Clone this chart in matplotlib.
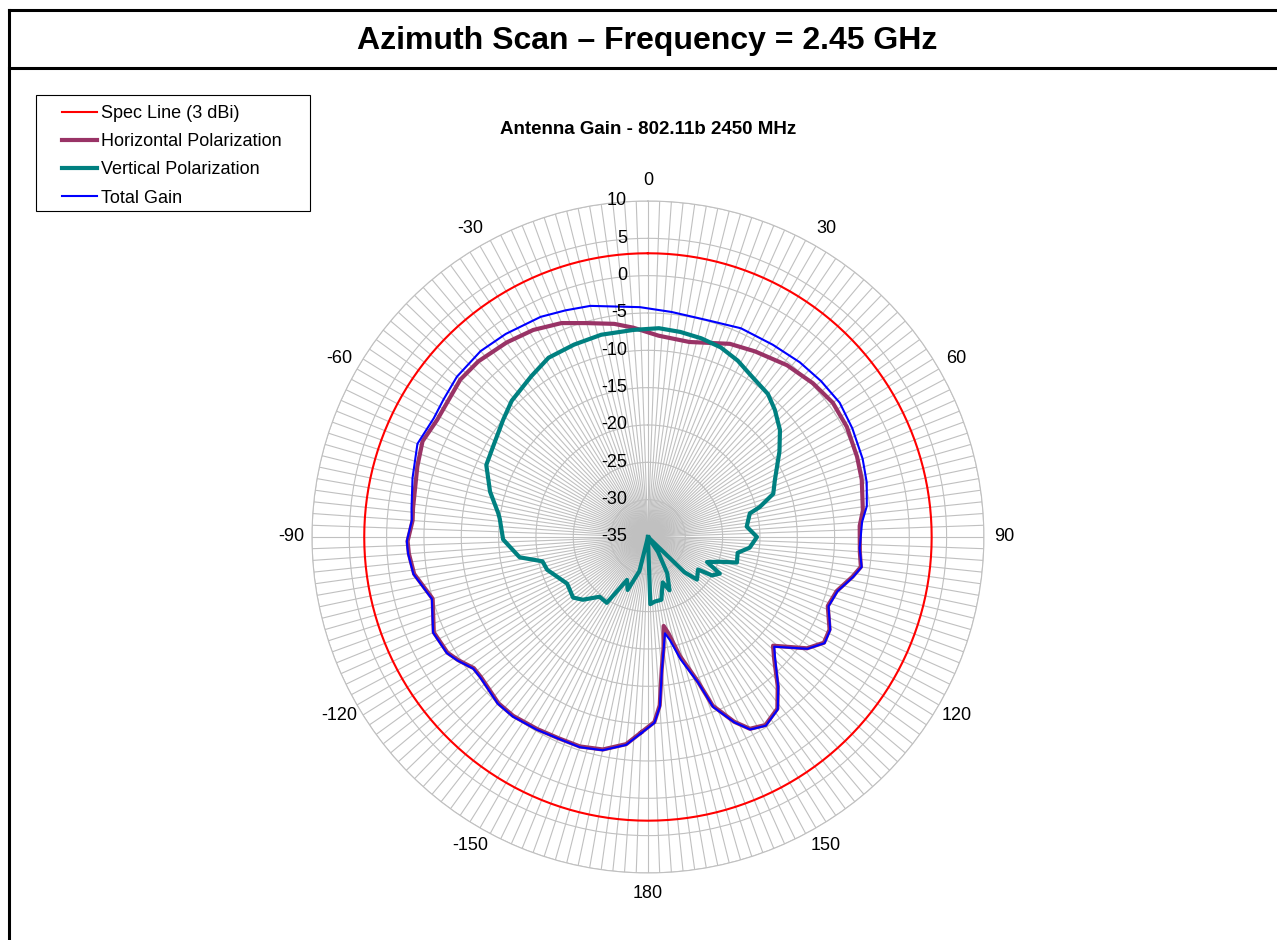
import numpy as np
import matplotlib.pyplot as plt
from matplotlib.lines import Line2D
from matplotlib.patches import Rectangle

plt.rcParams['font.family'] = ['Liberation Sans', 'DejaVu Sans']

# azimuth angle (deg) and gain (dBi) per series
total_deg = [-178, -174, -168, -162, -156, -150, -143, -138, -130, -127, -123, -120,
             -114, -106, -99, -94, -91, -86, -83, -76, -68, -61, -56, -50, -42, -35,
             -26, -20, -14, -2, 6, 15, 24, 33, 41, 48, 55, 62, 70, 76, 82, 86, 93,
             98, 101, 106, 111, 117, 121, 125, 131, 134, 139, 143, 148, 152, 155,
             159, 161, 165, 168, 170, 174, 176, 178]
total_db = [-8.7, -7.0, -5.8, -5.4, -5.45, -5.2, -4.9, -4.95, -5.7, -5.7, -4.6, -3.9,
            -3.5, -4.9, -3.2, -2.8, -2.7, -3.3, -3.1, -2.5, -1.7, -2.2, -2.0, -1.6,
            -1.5, -1.8, -2.2, -2.7, -3.1, -4.2, -4.7, -4.9, -4.4, -4.3, -4.0, -3.8,
            -3.65, -4.0, -4.4, -4.8, -5.4, -6.25, -6.6, -6.1, -7.0, -8.6, -9.1, -7.6,
            -7.4, -8.9, -12.6, -11.3, -8.4, -6.1, -5.2, -5.8, -7.6, -10.6, -14.4,
            -18.0, -20.9, -21.9, -17.1, -12.2, -10.1]

horiz_deg = [-178, -174, -168, -162, -156, -150, -143, -138, -130, -127, -123, -120,
             -114, -106, -99, -94, -91, -86, -83, -73, -67, -61, -50, -44, -36, -29,
             -22, -16, -9, -4, 3, 12, 23, 30, 39, 47, 54, 61, 69, 75, 83, 87, 94, 98,
             101, 106, 111, 117, 121, 125, 131, 134, 139, 143, 148, 152, 155, 159,
             161, 165, 168, 170, 172, 174, 176, 178]
horiz_db = [-8.8, -7.1, -5.9, -5.5, -5.5, -5.3, -5.0, -5.05, -5.8, -5.8, -4.7, -4.0,
            -3.6, -5.0, -3.3, -2.9, -2.8, -3.4, -3.3, -2.7, -2.2, -2.7, -2.2, -2.3,
            -2.8, -3.3, -4.1, -5.2, -6.1, -6.9, -8.0, -8.3, -6.9, -6.3, -5.4, -4.8,
            -4.4, -4.55, -5.0, -5.35, -6.0, -6.6, -6.55, -6.2, -7.1, -8.7, -9.2, -7.7,
            -7.5, -9.0, -12.8, -11.5, -8.5, -6.2, -5.3, -5.9, -7.7, -10.8, -14.6,
            -18.5, -21.8, -22.9, -20.0, -17.3, -12.4, -10.2]

vert_deg = [-176, -166, -159, -154, -148, -141, -134, -129, -120, -108, -103, -99,
            -91, -83, -81, -74, -66, -60, -51, -45, -36, -29, -21, -13, -4, 3, 9, 15,
            21, 27, 33, 40, 45, 51, 57, 66, 71, 75, 77, 84, 90, 96, 100, 106, 109,
            113, 117, 121, 123, 131, 134, 140, 146, 152, 158, 162, 168, 174, 178]
vert_db = [-35, -30.3, -27.4, -28.6, -24.6, -24.7, -22.9, -22.1, -22.5, -20.8, -20.5,
           -17.6, -15.6, -15.0, -14.7, -13.0, -11.3, -11.0, -10.05, -9.2, -8.4, -7.55,
           -7.4, -7.2, -7.2, -7.0, -7.2, -7.45, -7.8, -8.5, -9.4, -10.0, -10.95,
           -12.25, -14.0, -16.4, -17.25, -19.5, -21.0, -21.7, -20.4, -21.3, -22.8,
           -22.6, -24.8, -26.4, -24.2, -25.0, -27.0, -26.3, -28.2, -35, -32.6, -29.5,
           -27.3, -28.6, -26.4, -26.3, -26.0]

spec_gain = 3.0
r_min, r_max = -35, 10
ring_values = [10, 5, 0, -5, -10, -15, -20, -25, -30, -35]
angle_labels = [0, 30, 60, 90, 120, 150, 180, -150, -120, -90, -60, -30]

W, H = 1277, 940


def closed(deg, db):
    th = np.deg2rad(np.append(deg, deg[0]))
    return th, np.append(db, db[0])


fig = plt.figure(figsize=(W / 100, H / 100), dpi=100)

# frame and header
for xs, ys in [([9 / W, 1], [1 - 10 / H] * 2),
               ([9 / W, 1], [1 - 68 / H] * 2),
               ([9 / W] * 2, [0, 1 - 10 / H])]:
    fig.add_artist(Line2D(xs, ys, transform=fig.transFigure, color='black', lw=2.2))
fig.text(647 / W, 1 - 41 / H, 'Azimuth Scan – Frequency = 2.45 GHz',
         ha='center', va='center', fontsize=23, fontweight='bold')
fig.text(648 / W, 1 - 130 / H, 'Antenna Gain - 802.11b 2450 MHz',
         ha='center', va='center', fontsize=13.5, fontweight='bold')

ax = fig.add_axes([0.2443, 0.0713, 0.5262, 0.7149], projection='polar')
ax.set_theta_zero_location('N')
ax.set_theta_direction(-1)
ax.set_ylim(r_min, r_max)
ax.set_yticks(ring_values[:-1])
ax.set_yticklabels([])
ax.set_xticks(np.deg2rad(np.arange(0, 360, 2)))
ax.set_xticklabels([])
ax.tick_params(length=0)
ax.grid(True, color='#c0c0c0', lw=0.8)
ax.spines['polar'].set_color('#c0c0c0')
ax.spines['polar'].set_linewidth(0.8)

spec_th = np.deg2rad(np.arange(0, 362, 2))
l_spec, = ax.plot(spec_th, np.full(spec_th.size, spec_gain), color='#ff0000', lw=1.5,
                  label='Spec Line (3 dBi)')
l_h, = ax.plot(*closed(horiz_deg, horiz_db), color='#993366', lw=3,
               label='Horizontal Polarization')
l_v, = ax.plot(*closed(vert_deg, vert_db), color='#008080', lw=3,
               label='Vertical Polarization')
l_t, = ax.plot(*closed(total_deg, total_db), color='#0000ff', lw=1.5,
               label='Total Gain')

for v in ring_values:
    ax.annotate(str(v), (0, v), xytext=(-15, 0), textcoords='offset points',
                ha='right', va='center', fontsize=13)
for a in angle_labels:
    ax.text(np.deg2rad(a), 12.7, str(a), ha='center', va='center', fontsize=13,
            clip_on=False)

# legend box drawn separately so the handles sit well inside it
fig.add_artist(Rectangle((36 / W, 1 - 211 / H), 274 / W, 116 / H,
                         transform=fig.transFigure, fill=False,
                         edgecolor='black', lw=0.8))
fig.legend(handles=[l_spec, l_h, l_v, l_t], loc='upper left',
           bbox_to_anchor=(62 / W, 1 - 105 / H), borderaxespad=0, borderpad=0,
           frameon=False, fontsize=13, handlelength=1.94, handletextpad=0.2,
           labelspacing=0.62)

fig.savefig('out.png', dpi=100)
